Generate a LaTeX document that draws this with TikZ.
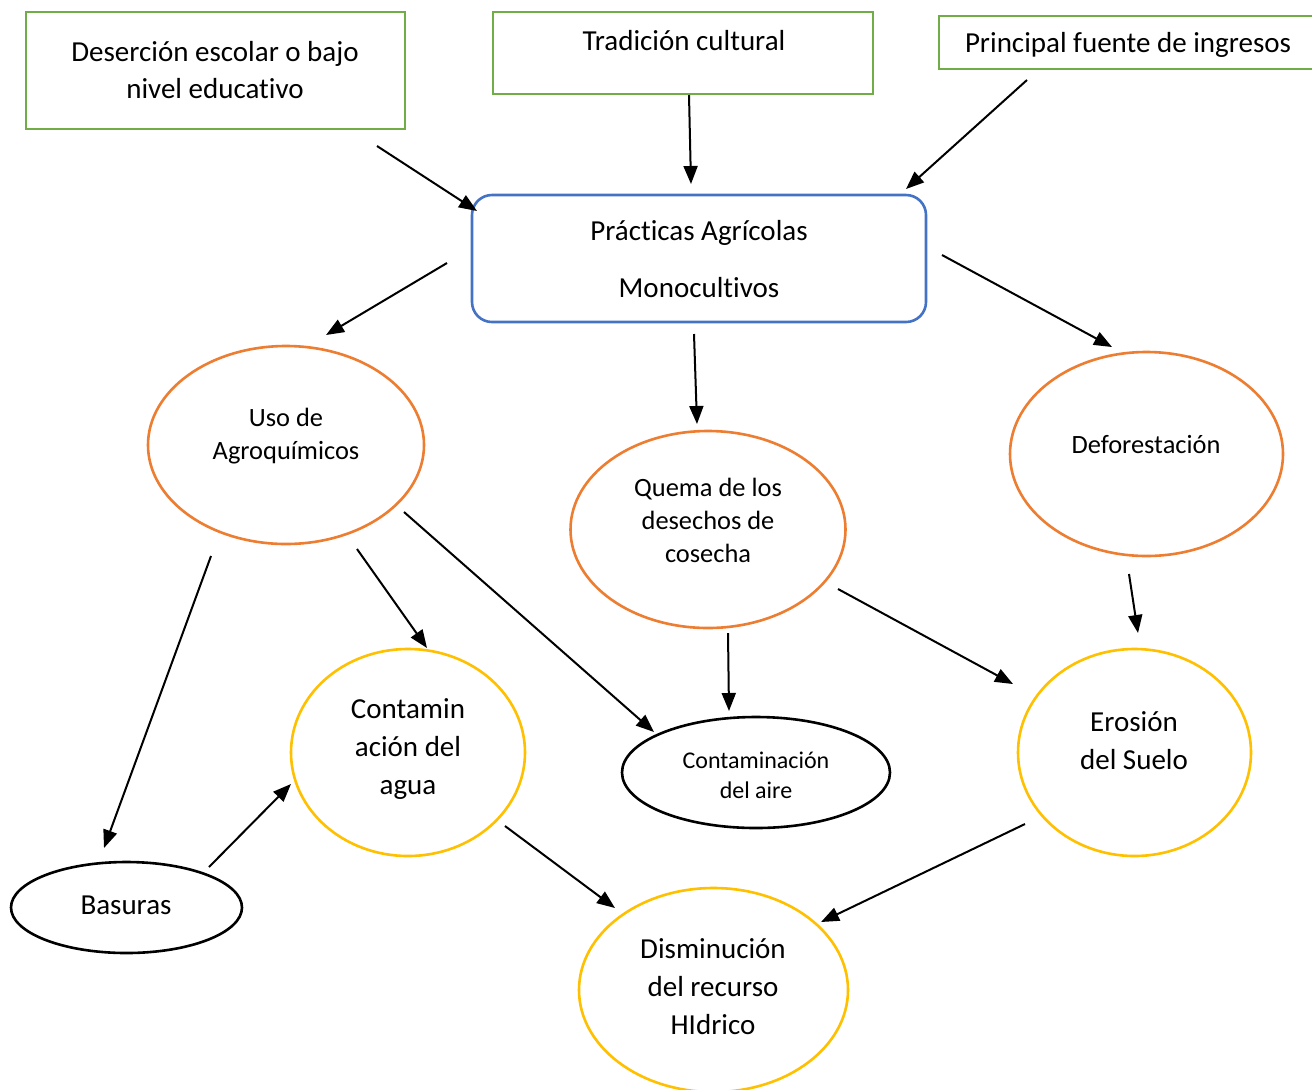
\documentclass[tikz,border=0pt]{standalone}
\usepackage{fontspec}
\setmainfont{Carlito}[Ligatures=NoCommon]
\usetikzlibrary{shapes.geometric,arrows.meta}
\definecolor{cgreen}{HTML}{70AD47}
\definecolor{cblue}{HTML}{4472C4}
\definecolor{corange}{HTML}{ED7D31}
\definecolor{cyellow}{HTML}{FFC000}
\tikzset{
  topbox/.style={draw=cgreen,line width=1.3pt,inner sep=0pt},
  mainbox/.style={draw=cblue,line width=1.3pt,rounded corners=10pt,inner sep=0pt},
  oval/.style={ellipse,line width=1.3pt,inner sep=0pt},
  big/.style={font=\fontsize{14.5}{18.5}\selectfont,align=center,inner sep=0pt},
  mid/.style={font=\fontsize{13.2}{16.6}\selectfont,align=center,inner sep=0pt},
  small/.style={font=\fontsize{12}{15}\selectfont,align=center,inner sep=0pt},
  arr/.style={-{Triangle[length=9pt,width=7pt]},line width=1pt,black}
}
\begin{document}
\begin{tikzpicture}[x=0.5pt,y=-0.5pt]
\useasboundingbox (0,0) rectangle (1312,1089);
\fill[white] (0,0) rectangle (1312,1089);

% top boxes
\node[topbox,minimum width=189.5pt,minimum height=58.5pt] (b1) at (215.5,70.5) {};
\node[big] (t1) at (215,70.5) {Deserción escolar o bajo\\nivel educativo};
\node[topbox,minimum width=190pt,minimum height=41pt] (b2) at (683,53) {};
\node[big] (t2) at (684,41) {Tradición cultural};
\node[topbox,minimum width=187pt,minimum height=26.5pt] (b3) at (1126,42.5) {};
\node[big] (t3) at (1128,45) {Principal fuente de ingresos};

% central box
\node[mainbox,minimum width=227pt,minimum height=63.5pt] (pa) at (699,258.5) {};
\node[font=\fontsize{14.5}{28.5}\selectfont,align=center,inner sep=0pt] (tpa) at (699,259.5) {Prácticas Agrícolas\\Monocultivos};

% ellipses
\node[oval,draw=corange,minimum width=138pt,minimum height=99pt] (uso) at (286,445) {};
\node[mid] (tuso) at (286,436) {Uso de\\Agroquímicos};
\node[oval,draw=corange,minimum width=137.5pt,minimum height=98.5pt] (que) at (708,529.5) {};
\node[mid] (tque) at (708,520.5) {Quema de los\\desechos de\\cosecha};
\node[oval,draw=corange,minimum width=136.5pt,minimum height=102pt] (def) at (1146.5,454) {};
\node[mid] (tdef) at (1146,445) {Deforestación};
\node[oval,draw=cyellow,minimum width=117pt,minimum height=103.5pt] (agua) at (408,752.5) {};
\node[big,font=\fontsize{14.5}{19}\selectfont] (tagua) at (408,749) {Contamin\\ación del\\agua};
\node[oval,draw=black,minimum width=134pt,minimum height=55.5pt] (aire) at (756,772.5) {};
\node[small] (taire) at (756,775) {Contaminación\\del aire};
\node[oval,draw=cyellow,minimum width=116.5pt,minimum height=103.5pt] (ero) at (1134.5,752.5) {};
\node[big,font=\fontsize{14.5}{19}\selectfont] (tero) at (1134,741) {Erosión\\del Suelo};
\node[oval,draw=black,minimum width=115.5pt,minimum height=45.5pt] (bas) at (126.5,907.5) {};
\node[big] (tbas) at (126,905) {Basuras};
\node[oval,draw=cyellow,minimum width=134.5pt,minimum height=102pt] (dis) at (713.5,990) {};
\node[big,font=\fontsize{14.5}{19}\selectfont] (tdis) at (713,987) {Disminución\\del recurso\\HIdrico};

% arrow end points
\coordinate (a1s) at (377,146);  \coordinate (a1e) at (477,211);
\coordinate (a2s) at (689,95);   \coordinate (a2e) at (691,184);
\coordinate (a3s) at (1027,80);  \coordinate (a3e) at (906,189);
\coordinate (a4s) at (447,263);  \coordinate (a4e) at (326,335);
\coordinate (a5s) at (694,334);  \coordinate (a5e) at (697,424);
\coordinate (a6s) at (942,255);  \coordinate (a6e) at (1112,347);
\coordinate (a7s) at (211,556);  \coordinate (a7e) at (104,848);
\coordinate (a8s) at (357,549);  \coordinate (a8e) at (427,648);
\coordinate (a9s) at (404,512);  \coordinate (a9e) at (654,732);
\coordinate (a10s) at (728,633); \coordinate (a10e) at (729,711);
\coordinate (a11s) at (838,589); \coordinate (a11e) at (1013,684);
\coordinate (a12s) at (1129,574);\coordinate (a12e) at (1138,633);
\coordinate (a13s) at (209,867); \coordinate (a13e) at (291,784);
\coordinate (a14s) at (505,826); \coordinate (a14e) at (615,908);
\coordinate (a15s) at (1025,824);\coordinate (a15e) at (821,922);

\draw[arr] (a1s) -- (a1e);
\draw[arr] (a2s) -- (a2e);
\draw[arr] (a3s) -- (a3e);
\draw[arr] (a4s) -- (a4e);
\draw[arr] (a5s) -- (a5e);
\draw[arr] (a6s) -- (a6e);
\draw[arr] (a7s) -- (a7e);
\draw[arr] (a8s) -- (a8e);
\draw[arr] (a9s) -- (a9e);
\draw[arr] (a10s) -- (a10e);
\draw[arr] (a11s) -- (a11e);
\draw[arr] (a12s) -- (a12e);
\draw[arr] (a13s) -- (a13e);
\draw[arr] (a14s) -- (a14e);
\draw[arr] (a15s) -- (a15e);
\end{tikzpicture}
\end{document}
